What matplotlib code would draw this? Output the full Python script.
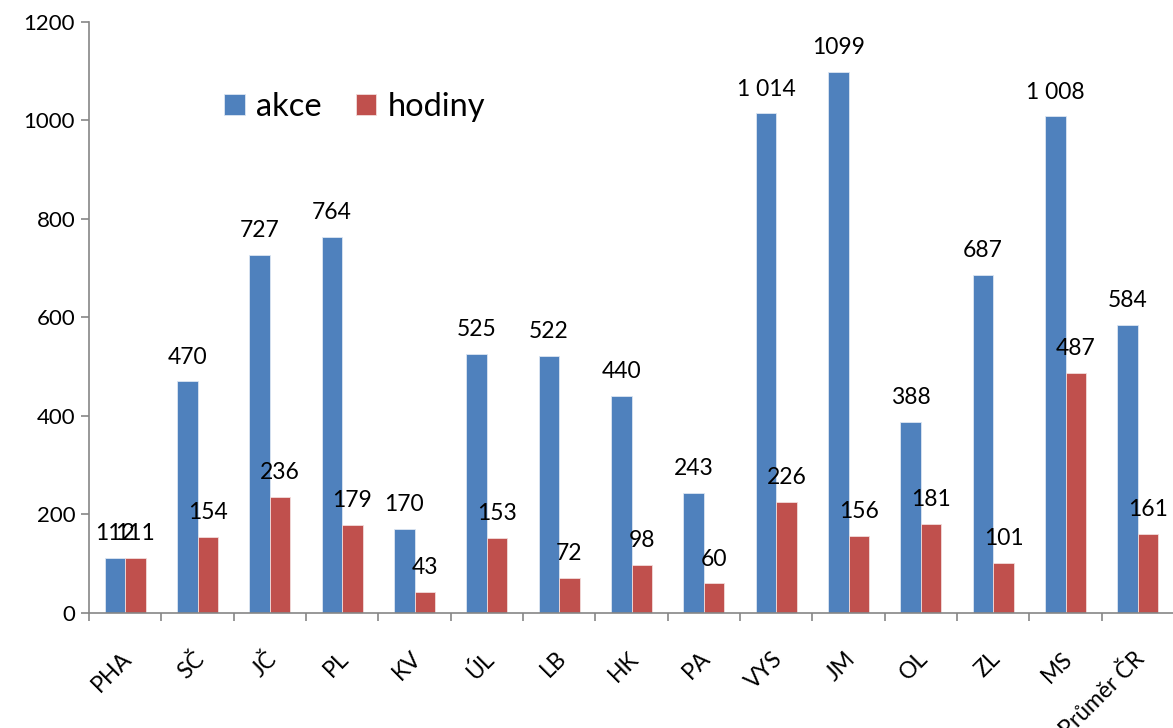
import numpy as np
import matplotlib.pyplot as plt
from matplotlib.ticker import FixedLocator
from matplotlib.transforms import ScaledTranslation

plt.rcParams['font.family'] = ['Lato', 'DejaVu Sans']

regions = ['PHA', 'SČ', 'JČ', 'PL', 'KV', 'ÚL', 'LB', 'HK', 'PA', 'VYS', 'JM', 'OL', 'ZL', 'MS', 'Průměr ČR']
akce = [112, 470, 727, 764, 170, 525, 522, 440, 243, 1014, 1099, 388, 687, 1008, 584]
hodiny = [111, 154, 236, 179, 43, 153, 72, 98, 60, 226, 156, 181, 101, 487, 161]
akce_lbl = ['112', '470', '727', '764', '170', '525', '522', '440', '243', '1 014', '1099', '388', '687', '1 008', '584']
hodiny_lbl = [str(v) for v in hodiny]

blue = '#4F81BD'
red = '#C0504D'
axis_col = '#868686'

fig = plt.figure(figsize=(11.73, 7.28), dpi=100)
ax = fig.add_axes([0.0759, 0.158, 0.925, 0.812])

x = np.arange(len(regions))
w = 0.283
b1 = ax.bar(x - w / 2, akce, w, color=blue, edgecolor='#dce6f2', linewidth=0.6, label='akce')
b2 = ax.bar(x + w / 2, hodiny, w, color=red, edgecolor='#f2dcdb', linewidth=0.6, label='hodiny')

for bars, labels in [(b1, akce_lbl), (b2, hodiny_lbl)]:
    for rect, t in zip(bars, labels):
        ax.annotate(t, (rect.get_x() + rect.get_width() / 2, rect.get_height()),
                    xytext=(0, 10), textcoords='offset points', ha='center', va='bottom', fontsize=16.5)

ax.set_xlim(-0.5, len(regions) - 0.5)
ax.set_ylim(0, 1200)
ax.set_yticks(np.arange(0, 1201, 200))
ax.tick_params(axis='y', labelsize=16, length=6, width=1.2, color=axis_col, pad=4)

ax.set_xticks(x)
ax.set_xticklabels(regions, rotation=45, ha='right', va='top', rotation_mode='anchor', fontsize=16.5)
ax.tick_params(axis='x', which='major', length=0, pad=25)
shift = ScaledTranslation(-4 / 100, 0, fig.dpi_scale_trans)
for lbl in ax.get_xticklabels():
    lbl.set_transform(lbl.get_transform() + shift)
ax.xaxis.set_minor_locator(FixedLocator(np.arange(-0.5, len(regions), 1.0)))
ax.tick_params(axis='x', which='minor', length=6, width=1.2, color=axis_col)

for s in ['top', 'right']:
    ax.spines[s].set_visible(False)
for s in ['left', 'bottom']:
    ax.spines[s].set_color(axis_col)
    ax.spines[s].set_linewidth(1.2)

ax.legend(loc='upper left', bbox_to_anchor=(0.1244, 0.881), ncol=2, frameon=False,
          borderpad=0, borderaxespad=0,
          fontsize=23.5, handlelength=0.63, handleheight=0.63, handletextpad=0.34, columnspacing=1.06)

fig.savefig('out.png', dpi=100)
